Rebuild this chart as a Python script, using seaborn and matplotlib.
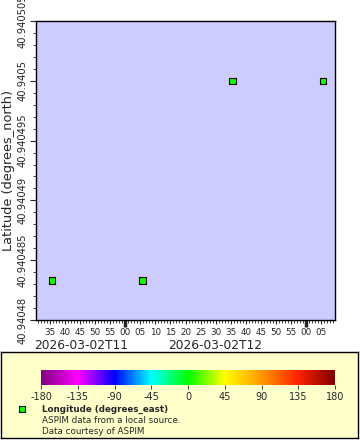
import pandas as pd
import matplotlib
matplotlib.use("Agg")
import matplotlib.pyplot as plt
import matplotlib.dates as mdates
from matplotlib.colors import LinearSegmentedColormap, Normalize
from matplotlib.cm import ScalarMappable
from matplotlib.ticker import FixedLocator, MultipleLocator, FuncFormatter, NullFormatter
import seaborn as sns

# data
times = ["2026-03-02T11:35:40", "2026-03-02T12:05:40",
         "2026-03-02T12:35:40", "2026-03-02T13:05:40"]
lats = [40.9404833, 40.9404833, 40.9405, 40.9405]
lons = [2.0, 2.0, 2.0, 2.0]
lat_ticks = [40.94048, 40.940485, 40.94049, 40.940495, 40.9405, 40.940505]
cbar_ticks = [-180, -135, -90, -45, 0, 45, 90, 135, 180]
hour_labels = ["2026-03-02T11", "2026-03-02T12"]
legend_lines = ["Longitude (degrees_east)", "ASPIM data from a local source.",
                "Data courtesy of ASPIM"]

df = pd.DataFrame({"time": pd.to_datetime(times), "lat": lats, "lon": lons})

rainbow = LinearSegmentedColormap.from_list("erddap_rainbow", [
    "#800080", "#ff00ff", "#0000ff", "#00ffff", "#00ff00",
    "#ffff00", "#ff9900", "#ff2200", "#800000"])

sns.set_style("white")
plt.rcParams["font.family"] = ["DejaVu Sans"]
plt.rcParams["axes.unicode_minus"] = False

W, H = 360, 440
fig = plt.figure(figsize=(3.6, 4.4), dpi=100)

# legend box drawn first so it sits below the colorbar
box = fig.add_axes([1 / W, 2 / H, 357 / W, 86 / H])
box.set_facecolor("#ffffcc")
box.set_xticks([])
box.set_yticks([])
for s in box.spines.values():
    s.set_color("black")
    s.set_linewidth(1)

ax = fig.add_axes([36 / W, 1 - 320 / H, 299 / W, 299 / H])
ax.set_facecolor("#ccccff")

sns.scatterplot(data=df, x="time", y="lat", hue="lon", palette=rainbow,
                hue_norm=(-180, 180), marker="s", s=22, edgecolor="black",
                linewidth=0.8, legend=False, ax=ax, zorder=3)

t0 = pd.Timestamp("2026-03-02T11:30:20")
t1 = pd.Timestamp("2026-03-02T13:09:40")
ax.set_xlim(t0, t1)
ax.set_ylim(lat_ticks[0], lat_ticks[-1])

for s in ax.spines.values():
    s.set_color("black")
    s.set_linewidth(1)

# x axis: minutes every 5, minor every minute
ax.xaxis.set_major_locator(mdates.MinuteLocator(byminute=range(0, 60, 5)))
ax.xaxis.set_major_formatter(mdates.DateFormatter("%M"))
ax.xaxis.set_minor_locator(mdates.MinuteLocator())
ax.tick_params(axis="x", which="major", length=3, width=0.8, pad=3,
               labelsize=6.3, direction="out", bottom=True)
ax.tick_params(axis="x", which="minor", length=2, width=0.6, direction="out",
               bottom=True)
# heavier ticks on the hour
sec = ax.secondary_xaxis("bottom")
sec.xaxis.set_major_locator(mdates.HourLocator())
sec.xaxis.set_major_formatter(NullFormatter())
sec.tick_params(axis="x", length=5, width=2.5, direction="out")
sec.spines["bottom"].set_visible(False)

hours = [t0, pd.Timestamp("2026-03-02T12:00"), pd.Timestamp("2026-03-02T13:00")]
for i, lab in enumerate(hour_labels):
    mid = hours[i] + (hours[i + 1] - hours[i]) / 2
    ax.text(mdates.date2num(mid), -0.085, lab, transform=ax.get_xaxis_transform(),
            ha="center", va="center", fontsize=8.8)

# y axis
ax.yaxis.set_major_locator(FixedLocator(lat_ticks))
ax.yaxis.set_minor_locator(MultipleLocator(1e-6))
ax.yaxis.set_major_formatter(FuncFormatter(
    lambda v, p: f"{v:.6f}".rstrip("0").rstrip(".")))
ax.tick_params(axis="y", which="major", length=4, width=0.8, pad=2,
               labelsize=7.2, direction="out", left=True)
ax.tick_params(axis="y", which="minor", length=2, width=0.6, direction="out",
               left=True)
for lab in ax.get_yticklabels():
    lab.set_rotation(90)
    lab.set_va("center")
ax.set_xlabel("")
ax.set_ylabel("Latitude (degrees_north)", fontsize=9.3, labelpad=2)

# colorbar inside the legend box
cax = fig.add_axes([41 / W, 1 - 385 / H, 294 / W, 15 / H])
cb = fig.colorbar(ScalarMappable(norm=Normalize(-180, 180), cmap=rainbow), cax=cax,
                  orientation="horizontal", ticks=cbar_ticks)
cb.outline.set_visible(False)
cax.tick_params(labelsize=7, length=3, width=0.6, pad=2, direction="out")

fig.add_artist(plt.Line2D([22 / W], [1 - 409 / H], marker="s", markersize=5,
                          markerfacecolor=rainbow(Normalize(-180, 180)(lons[0])),
                          markeredgecolor="black", markeredgewidth=0.8,
                          transform=fig.transFigure))
fig.text(42 / W, 1 - 409 / H, legend_lines[0], fontsize=6.3, fontweight="bold",
         va="center")
for i, line in enumerate(legend_lines[1:]):
    fig.text(42 / W, 1 - (420 + 11 * i) / H, line, fontsize=6.3, va="center")

fig.savefig("out.png", dpi=100)
